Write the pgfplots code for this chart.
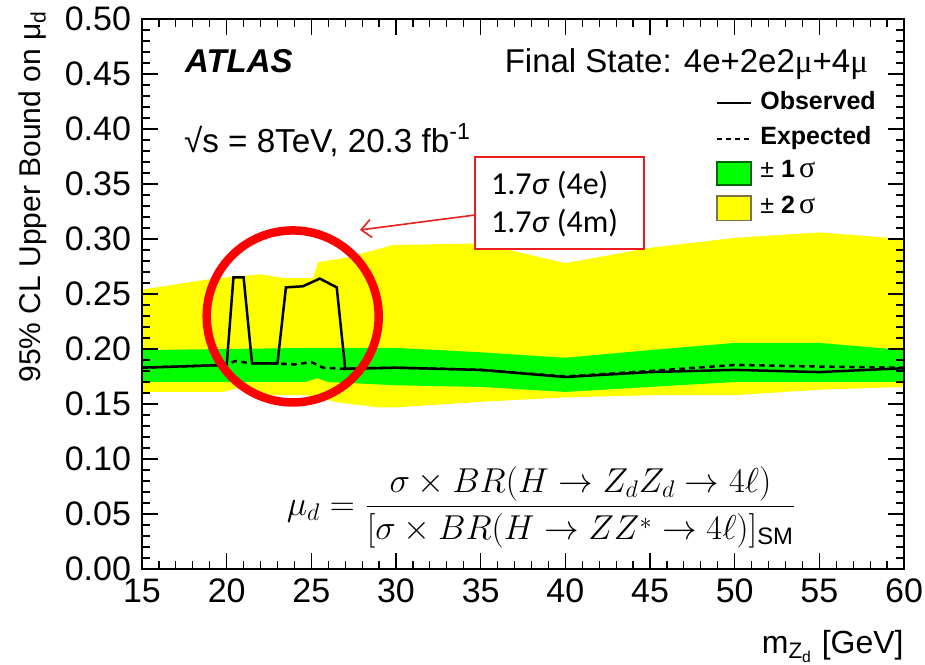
\documentclass[border=0pt]{standalone}
\usepackage{fontspec}
\setmainfont{Liberation Sans}
\newfontfamily\serifgreek{Liberation Serif}
\newfontfamily\carlito{Carlito}
\usepackage{pgfplots}
\pgfplotsset{compat=1.18}
\usetikzlibrary{arrows.meta}
\definecolor{bandgreen}{RGB}{0,255,0}
\definecolor{bandyellow}{RGB}{255,255,0}
\definecolor{annred}{RGB}{235,30,30}

\begin{document}
\begin{tikzpicture}
\begin{axis}[name=ax, scale only axis, width=381pt, height=275pt,
  xmin=15, xmax=60, ymin=0, ymax=0.5,
  xtick={15,20,25,30,35,40,45,50,55,60},
  ytick={0,0.05,0.1,0.15,0.2,0.25,0.3,0.35,0.4,0.45,0.5},
  minor x tick num=4, minor y tick num=4,
  tick align=inside, major tick length=8pt, minor tick length=4pt,
  every tick/.style={black, line width=0.6pt},
  axis line style={line width=0.8pt},
  ticklabel style={font=\fontsize{17}{20}\selectfont},
  xticklabel style={yshift=-1.5pt},
  clip=false, axis on top,
  /pgf/number format/assume math mode=true,
  yticklabel style={xshift=-2pt, /pgf/number format/.cd, fixed, fixed zerofill, precision=2},
]
% +-2 sigma band
\addplot[fill=bandyellow, draw=none] coordinates {
 (15,0.254) (18.8,0.263) (22,0.268) (23.3,0.2645) (25.1,0.2645) (25.4,0.279)
 (27.1,0.283) (29.8,0.2945) (35,0.296) (40,0.278) (45,0.292) (50,0.301)
 (55,0.306) (60,0.300)
 (60,0.1655) (55,0.163) (50,0.158) (45,0.158) (40,0.156) (35,0.152) (30,0.147)
 (29,0.147) (26.7,0.151) (24.7,0.158) (22.7,0.158) (20.8,0.165) (19.8,0.161)
 (15,0.161)} -- cycle;
% +-1 sigma band
\addplot[fill=bandgreen, draw=none] coordinates {
 (15,0.199) (25,0.201) (30,0.201) (35,0.197) (40,0.192) (45,0.199) (50,0.2055)
 (55,0.2055) (60,0.199)
 (60,0.170) (55,0.170) (50,0.170) (45,0.1655) (40,0.161) (35,0.1655) (30,0.167)
 (26,0.170) (25.3,0.1736) (24.7,0.170) (15,0.170)} -- cycle;
% expected
\addplot[black, line width=1.25pt, dash pattern=on 2.8pt off 2.2pt] coordinates {
 (15,0.183) (19,0.185) (20,0.186) (20.5,0.189) (21.5,0.187) (22.5,0.187)
 (24,0.186) (25,0.188) (25.7,0.183) (27,0.182) (30,0.183) (35,0.181)
 (40,0.175) (45,0.180) (50,0.1855) (55,0.184) (60,0.183)};
% observed
\addplot[black, line width=1.25pt] coordinates {
 (15,0.183) (17,0.184) (19,0.185) (20.0,0.185) (20.4,0.265) (21.0,0.265)
 (21.5,0.187) (23.0,0.187) (23.5,0.256) (24.5,0.257) (25.5,0.264) (26.5,0.256)
 (27.0,0.182) (30,0.183) (35,0.181) (40,0.1745) (45,0.179) (50,0.181)
 (55,0.179) (60,0.1825)};

% texts
\node[anchor=base west, font=\fontsize{16.5}{20}\selectfont\bfseries\itshape] at (axis cs:17.13,0.451) {ATLAS};
\node[anchor=base west, font=\fontsize{16.6}{19}\selectfont] at (axis cs:17.07,0.379) {√s = 8TeV, 20.3 fb\textsuperscript{-1}};
\node[anchor=base east, font=\fontsize{16.5}{20}\selectfont] at (axis cs:58.29,0.451) {Final State: 4e+2e2{\serifgreek μ}+4{\serifgreek μ}};

% legend
\draw[line width=1.2pt] (axis cs:48.96,0.4236) -- (axis cs:50.97,0.4236);
\node[anchor=base west, font=\fontsize{12.5}{15}\selectfont\bfseries] at (axis cs:51.1,0.4173) {Observed};
\draw[line width=1.2pt, dash pattern=on 2.5pt off 2pt] (axis cs:48.96,0.391) -- (axis cs:50.97,0.391);
\node[anchor=base west, font=\fontsize{12.5}{15}\selectfont\bfseries] at (axis cs:51.1,0.3855) {Expected};
\draw[fill=bandgreen, draw=black!60!green, line width=0.7pt] (axis cs:48.96,0.349) rectangle (axis cs:50.97,0.370);
\node[anchor=base west, font=\fontsize{12.5}{15}\selectfont] at (axis cs:51.1,0.3555) {± \textbf{1}\,{\serifgreek\fontsize{15}{15}\selectfont σ}};
\draw[fill=bandyellow, draw=black!60!yellow, line width=0.7pt] (axis cs:48.96,0.317) rectangle (axis cs:50.97,0.339);
\node[anchor=base west, font=\fontsize{12.5}{15}\selectfont] at (axis cs:51.1,0.3236) {± \textbf{2}\,{\serifgreek\fontsize{15}{15}\selectfont σ}};

% annotation
\draw[annred, line width=0.8pt, fill=white] (axis cs:34.67,0.291) rectangle (axis cs:44.65,0.3745);
\node[anchor=base west, font=\carlito\fontsize{16}{19}\selectfont] at (axis cs:35.2,0.340) {1.7\textit{σ} (4e)};
\node[anchor=base west, font=\carlito\fontsize{16}{19}\selectfont] at (axis cs:35.2,0.3055) {1.7\textit{σ} (4m)};
\draw[annred, line width=0.8pt, -{Straight Barb[length=5pt,width=9pt]}] (axis cs:34.67,0.3218) -- (axis cs:27.87,0.3082);
\draw[red, line width=4.25pt] (axis cs:23.9,0.2296) circle[radius=43pt];

% formula
\node[font=\fontsize{17}{20}\selectfont] at (axis cs:38.6,0.0564)
 {$\displaystyle \mu_d = \frac{\sigma\times BR(H\to Z_dZ_d\to 4\ell)}{[\sigma\times BR(H\to ZZ^{*}\to 4\ell)]_{\mathrm{SM}}}$};

% axis labels
\node[rotate=90, anchor=south east, inner sep=0pt, font=\fontsize{15}{18}\selectfont] at (rel axis cs:-0.1247,1.016) {95\% CL Upper Bound on μ\textsubscript{d}};
\node[anchor=north east, inner sep=0pt, font=\fontsize{16}{19}\selectfont] at (rel axis cs:1,-0.111) {m\textsubscript{Z\textsubscript{d}} [GeV]};
\end{axis}
\pgfresetboundingbox
\path ([shift={(-71pt,-48pt)}]ax.south west) rectangle ([shift={(10.5pt,9.5pt)}]ax.north east);
\end{tikzpicture}
\end{document}
